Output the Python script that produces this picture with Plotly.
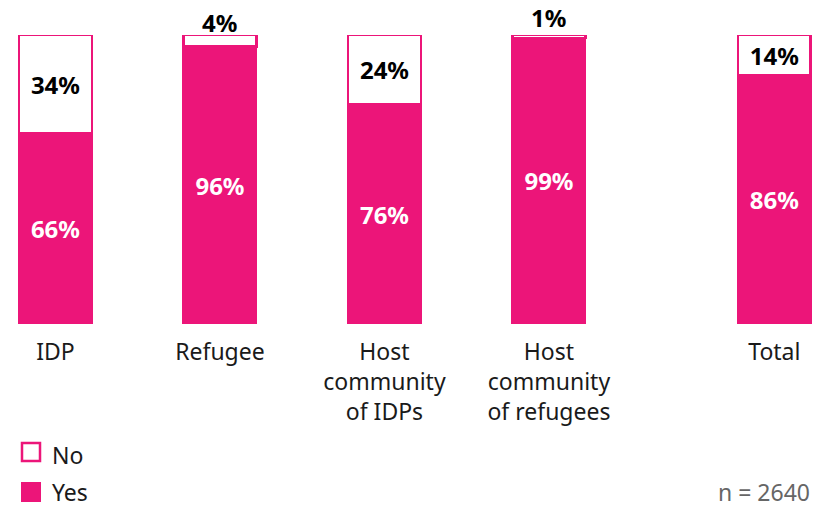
import plotly.graph_objects as go

categories = ["IDP", "Refugee", "Host<br>community<br>of IDPs", "Host<br>community<br>of refugees", "Total"]
x_pos = [0, 1, 2, 3, 4.37]
yes_vals = [66, 96, 76, 99, 86]
no_vals = [34, 4, 24, 1, 14]
n_label = "n = 2640"

PINK = "#EC1579"
FONT = "Noto Sans"
FS = 24
SMALL = 8  # "No" shares below this are labelled above the bar

fig = go.Figure()
fig.add_trace(go.Bar(
    x=x_pos, y=yes_vals, name="Yes", width=0.456,
    marker=dict(color=PINK, line=dict(color=PINK, width=0)),
    text=[f"{v}%" for v in yes_vals], textposition="inside",
    insidetextanchor="middle", constraintext="none",
    textfont=dict(family=FONT, size=FS, color="white", weight="bold"),
    cliponaxis=False, showlegend=False,
))
fig.add_trace(go.Bar(
    x=x_pos, y=no_vals, name="No", width=0.442,
    marker=dict(color="white", line=dict(color=PINK, width=2.5)),
    text=[f"{v}%" if v >= SMALL else "" for v in no_vals], textposition="inside",
    insidetextanchor="middle", constraintext="none",
    textfont=dict(family=FONT, size=FS, color="black", weight="bold"),
    cliponaxis=False, showlegend=False,
))

# small "No" shares: label sits just above the thin segment
for xp, yv, nv in zip(x_pos, yes_vals, no_vals):
    if nv < SMALL:
        fig.add_annotation(x=xp, y=yv + nv / 2, text=f"<b>{nv}%</b>", showarrow=False,
                           yshift=18.5, font=dict(family=FONT, size=FS, color="black"))

fig.update_layout(
    barmode="stack",
    width=825, height=507,
    margin=dict(l=0, r=0, t=35, b=183),
    plot_bgcolor="white", paper_bgcolor="white",
    xaxis=dict(
        range=[-0.337, 4.678], tickmode="array", tickvals=x_pos, ticktext=categories,
        showgrid=False, zeroline=False, showline=False,
        tickfont=dict(family=FONT, size=23, color="#1a1a1a"),
        ticks="", ticklabelstandoff=12,
    ),
    yaxis=dict(range=[0, 100], visible=False),
)

# legend drawn in pixel-aligned paper coordinates
def px_x(p):
    return p / 825

def py_y(p):
    # paper y relative to plot area (top 35, bottom 324)
    return (324 - p) / 289

fig.add_shape(type="rect", xref="paper", yref="paper",
              x0=px_x(22), x1=px_x(40), y0=py_y(461), y1=py_y(443),
              line=dict(color=PINK, width=2.5), fillcolor="white")
fig.add_shape(type="rect", xref="paper", yref="paper",
              x0=px_x(21), x1=px_x(41), y0=py_y(502), y1=py_y(482),
              line=dict(width=0), fillcolor=PINK)
fig.add_annotation(text="No", xref="paper", yref="paper", x=px_x(50), y=py_y(455),
                   xanchor="left", yanchor="middle", showarrow=False,
                   font=dict(family=FONT, size=FS - 1, color="#1a1a1a"))
fig.add_annotation(text="Yes", xref="paper", yref="paper", x=px_x(50), y=py_y(492),
                   xanchor="left", yanchor="middle", showarrow=False,
                   font=dict(family=FONT, size=FS - 1, color="#1a1a1a"))
fig.add_annotation(text=n_label, xref="paper", yref="paper", x=px_x(812), y=py_y(492),
                   xanchor="right", yanchor="middle", showarrow=False,
                   font=dict(family=FONT, size=FS - 1, color="#666666"))

fig.write_html("out.html")
